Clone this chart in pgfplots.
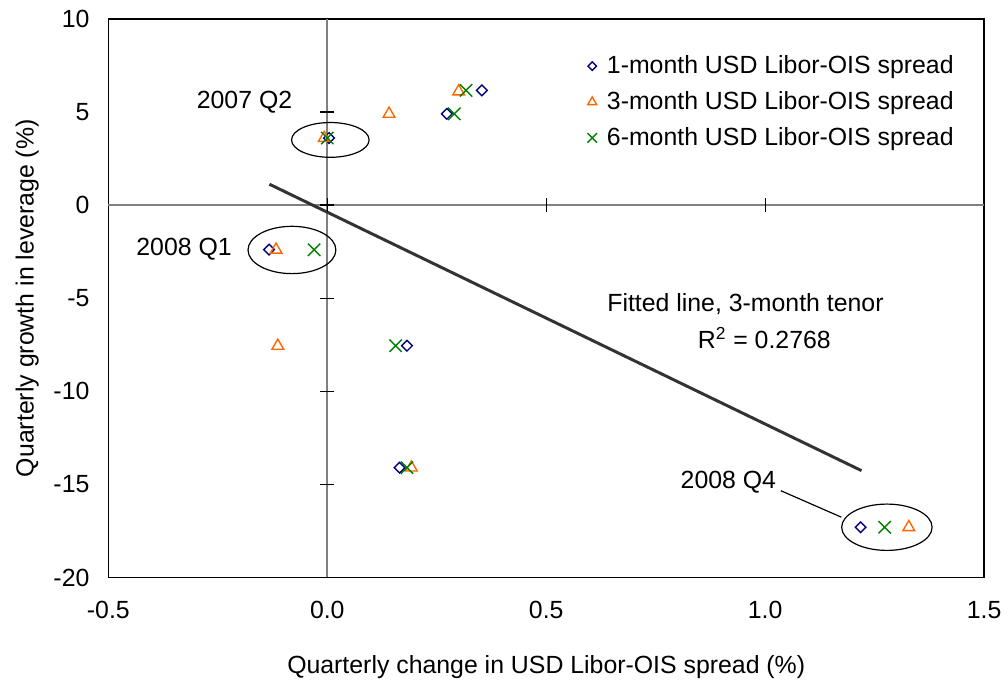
\documentclass[border=0pt]{standalone}
\usepackage{fontspec}
\setmainfont{Liberation Sans}
\usepackage{pgfplots}
\pgfplotsset{compat=1.18}
\definecolor{cnavy}{RGB}{0,0,128}
\definecolor{corange}{RGB}{255,102,0}
\definecolor{cgreen}{RGB}{0,128,0}
\newcommand{\ff}{\fontsize{12.5}{15}\selectfont}
\begin{document}
\begin{tikzpicture}
\begin{axis}[
  scale only axis, width=440.5pt, height=281pt,
  xmin=-0.5, xmax=1.5, ymin=-20, ymax=10,
  xtick={-0.5,0,0.5,1,1.5}, ytick={-20,-15,-10,-5,0,5,10},
  major tick length=0pt,
  /pgf/number format/assume math mode=true,
  xticklabel style={/pgf/number format/fixed, /pgf/number format/fixed zerofill, /pgf/number format/precision=1},
  tick label style={font=\ff},
  label style={font=\ff},
  xticklabel shift=8.5pt, yticklabel shift=6pt,
  axis line style={line width=0.8pt},
  xlabel={Quarterly change in USD Libor-OIS spread (\%)},
  ylabel={Quarterly growth in leverage (\%)},
  xlabel style={yshift=-11.5pt},
  ylabel style={yshift=0.5pt},
  clip=false,
  legend style={at={(0.977,0.942)}, anchor=north east, draw=none, fill=none, font=\ff, row sep=3.5pt, inner sep=0pt, legend cell align=left, nodes={inner xsep=5pt}},
  legend image post style={mark size=2.6pt},
]
% centre axes
\draw[gray, line width=0.8pt] (axis cs:0,-20) -- (axis cs:0,10);
\draw[gray, line width=0.8pt] (axis cs:-0.5,0) -- (axis cs:1.5,0);
\addplot[forget plot, only marks, mark=-, mark size=3.5pt, black, mark options={line width=0.6pt}] coordinates {(0,5)(0,0)(0,-5)(0,-10)(0,-15)(0,-20)};
\addplot[forget plot, only marks, mark=|, mark size=3.5pt, black, mark options={line width=0.6pt}] coordinates {(0,0)(0.5,0)(1.0,0)};
% fitted line
\addplot[forget plot, line width=1.5pt, color=black!80] coordinates {(-0.132,1.12)(1.220,-14.26)};
% series
\addplot[only marks, cnavy, mark=square, mark size=1.9pt, mark options={rotate=45, line width=0.7pt}, legend image post style={mark size=1.5pt}]
 coordinates {(0.004,3.6)(0.273,4.9)(0.353,6.16)(-0.133,-2.39)(0.182,-7.55)(0.165,-14.1)(1.218,-17.3)};
\addlegendentry{1-month USD Libor-OIS spread}
\addplot[only marks, corange, mark=triangle, mark size=3.4pt, mark options={line width=0.7pt}, legend image post style={mark size=2.6pt}]
 coordinates {(-0.007,3.6)(0.141,4.9)(0.30,6.1)(-0.117,-2.4)(-0.113,-7.56)(0.192,-14.1)(1.328,-17.3)};
\addlegendentry{3-month USD Libor-OIS spread}
\addplot[only marks, cgreen, mark=x, mark size=4.4pt, mark options={line width=0.7pt}, legend image post style={mark size=3.4pt}]
 coordinates {(0.0,3.6)(0.29,4.9)(0.317,6.16)(-0.030,-2.4)(0.156,-7.55)(0.182,-14.1)(1.273,-17.3)};
\addlegendentry{6-month USD Libor-OIS spread}
% annotations
\draw[line width=0.6pt] (axis cs:0.007,3.5) ellipse [x radius=19.5pt, y radius=8.75pt];
\draw[line width=0.6pt] (axis cs:-0.0807,-2.41) ellipse [x radius=22.1pt, y radius=11.9pt];
\draw[line width=0.6pt] (axis cs:1.278,-17.3) ellipse [x radius=22.75pt, y radius=11.65pt];
\draw[line width=0.6pt] (axis cs:1.036,-15.34) -- (axis cs:1.174,-16.76);
\node[font=\ff] at (axis cs:-0.189,5.5) {2007 Q2};
\node[font=\ff] at (axis cs:-0.327,-2.35) {2008 Q1};
\node[font=\ff] at (axis cs:0.916,-14.9) {2008 Q4};
\node[font=\ff] at (axis cs:0.955,-5.29) {Fitted line, 3-month tenor};
\node[font=\ff] at (axis cs:0.998,-7.15) {R\textsuperscript{2} = 0.2768};
\coordinate (bl) at (rel axis cs:0,0);
\coordinate (tr) at (rel axis cs:1,1);
\end{axis}
\path ([shift={(-54.5pt,-52.5pt)}]bl) rectangle ([shift={(9pt,9.5pt)}]tr);
\end{tikzpicture}
\end{document}
